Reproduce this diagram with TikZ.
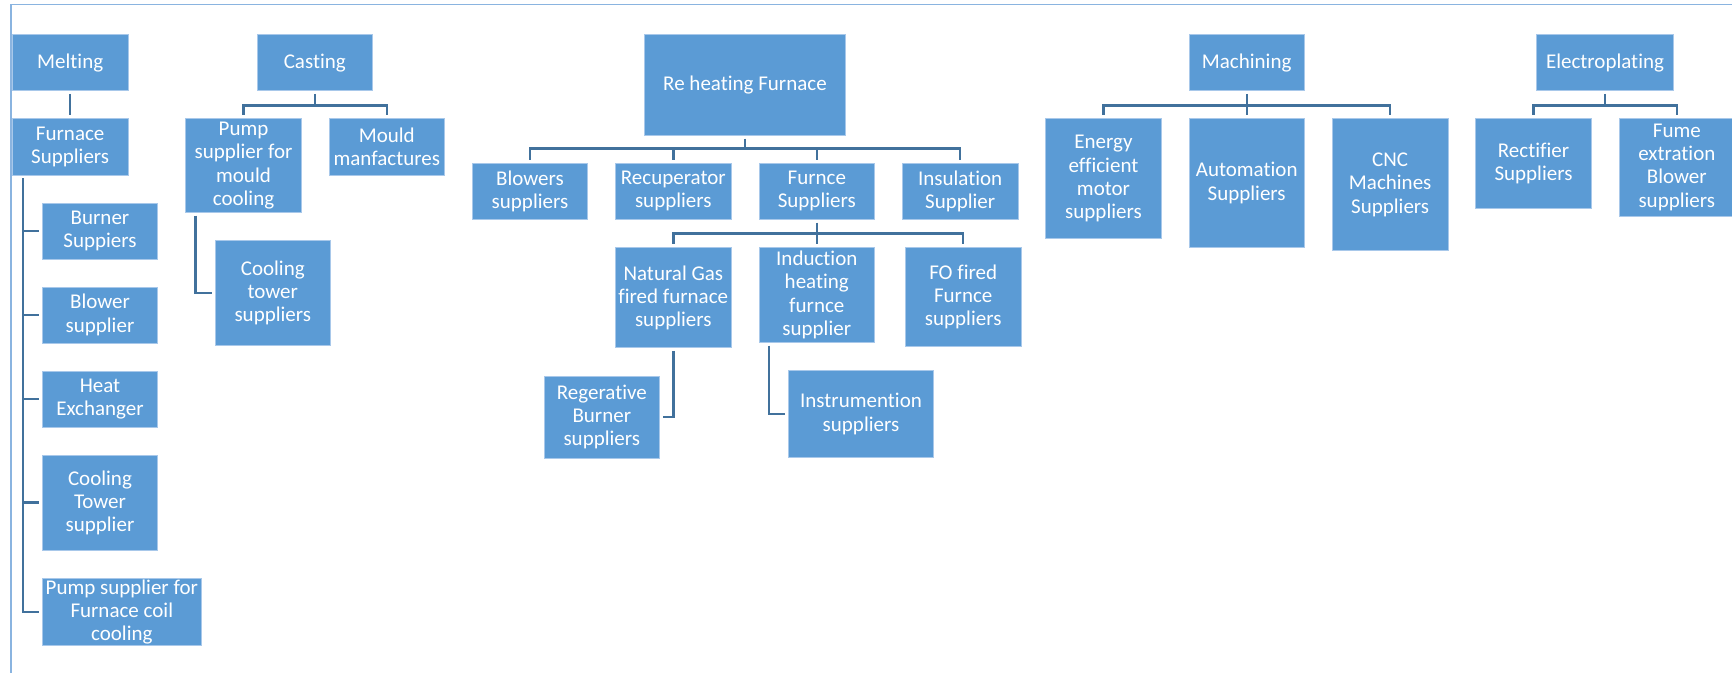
\documentclass[tikz,border=0pt]{standalone}
\usepackage{fontspec}
\newfontfamily\carl[Ligatures=NoCommon]{Carlito}
\newcommand\boxfont{\carl\fontsize{15.75pt}{17.4pt}\selectfont}
\usetikzlibrary{calc}
\definecolor{boxfill}{HTML}{5B9BD5}
\definecolor{boxedge}{HTML}{A8C8EA}
\definecolor{linecol}{HTML}{41719C}
\definecolor{framec}{HTML}{8AB4E0}
\tikzset{
  box/.style 2 args={draw=boxedge, line width=0.5pt, fill=boxfill, text=white,
    align=center, inner sep=0pt, minimum width={#1*0.75pt}, minimum height={#2*0.75pt}, font=\boxfont},
  conn/.style={draw=linecol, line width=1.8pt},
  sh/.style={shorten <=2.2pt, shorten >=2.2pt},
  she/.style={shorten >=2.2pt},
}
\begin{document}
\begin{tikzpicture}[x=0.75pt, y=-0.75pt]
\useasboundingbox (0,0) rectangle (1732,673);
\fill[white] (0,0) rectangle (1732,673);
% frame
\draw[framec, line width=0.9pt] (11,673) -- (11,4.3) -- (1732,4.3);

% ---------- Melting ----------
\node[box={115.7}{56.2}] (melt) at (70.2,62.6) {Melting};
\node[box={115.7}{56.3}] (mfs) at (70.2,146.9) {Furnace\\Suppliers};
\node[box={115.4}{56}] (burn) at (100,231) {Burner\\Suppiers};
\node[box={115.4}{56}] (blowm) at (100,315) {Blower\\supplier};
\node[box={115.4}{56.3}] (heat) at (100,399.2) {Heat\\Exchanger};
\node[box={115.4}{94.7}] (cool) at (100,502.7) {Cooling\\Tower\\supplier};
\node[box={159}{67}] (pcoil) at (121.8,611.8) {Pump supplier for\\Furnace coil\\cooling};

\draw[conn, sh] (melt.south) -- (mfs.north);
\coordinate (mb) at ($(mfs.south west)+(10.7,0)$);
\foreach \n in {burn,blowm,heat,cool,pcoil}
  \draw[conn, sh] (mb) |- (\n.west);

% ---------- Casting ----------
\node[box={115.7}{56.2}] (cast) at (314.8,62.6) {Casting};
\node[box={115.6}{93.6}] (pmould) at (243.5,165.5) {Pump\\supplier for\\mould\\cooling};
\node[box={115.7}{56.3}] (mould) at (386.8,146.9) {Mould\\manfactures};
\node[box={115.7}{105}] (ctow) at (272.8,292.8) {Cooling\\tower\\suppliers};

\coordinate (cj) at ($(cast.south)+(0,14.3)$);
\draw[conn, shorten <=2.2pt] (cast.south) -- (cj);
\draw[conn, she] (cj) -| (pmould.north);
\draw[conn, she] (cj) -| (mould.north);
\coordinate (pmb) at ($(pmould.south west)+(10,0)$);
\draw[conn, sh] (pmb) |- (ctow.west);

% ---------- Re heating Furnace ----------
\node[box={201.4}{100.6}] (reh) at (745,85) {Re heating Furnace};
\node[box={115.4}{56}] (blow) at (530,191.3) {Blowers\\suppliers};
\node[box={115.4}{56}] (recup) at (673.3,191.3) {Recuperator\\suppliers};
\node[box={115.4}{56}] (furn) at (816.8,191.3) {Furnce\\Suppliers};
\node[box={115.4}{56}] (insul) at (960.2,191.3) {Insulation\\Supplier};
\node[box={115.4}{100}] (ngas) at (673.3,297.7) {Natural Gas\\fired furnace\\suppliers};
\node[box={115.4}{94.6}] (induc) at (816.8,295) {Induction\\heating\\furnce\\supplier};
\node[box={115.4}{98.6}] (fofi) at (963.2,297) {FO fired\\Furnce\\suppliers};
\node[box={115}{82}] (regen) at (601.8,417) {Regerative\\Burner\\suppliers};
\node[box={144.6}{86.6}] (instr) at (861,414) {Instrumention\\suppliers};

\coordinate (rj) at ($(reh.south)+(0,13)$);
\draw[conn, shorten <=2.2pt] (reh.south) -- (rj);
\foreach \n in {blow,recup,furn,insul}
  \draw[conn, she] (rj) -| (\n.north);
\coordinate (fj) at ($(furn.south)+(0,14)$);
\draw[conn, shorten <=2.2pt] (furn.south) -- (fj);
\foreach \n in {ngas,induc,fofi}
  \draw[conn, she] (fj) -| (\n.north);
\draw[conn, sh] (ngas.south) |- (regen.east);
\coordinate (ib) at ($(induc.south west)+(10.3,0)$);
\draw[conn, sh] (ib) |- (instr.west);

% ---------- Machining ----------
\node[box={115.3}{56.2}] (mach) at (1246.7,62.6) {Machining};
\node[box={115.6}{120}] (ener) at (1103.5,178.7) {Energy\\efficient\\motor\\suppliers};
\node[box={115.3}{128.6}] (auto) at (1246.7,183) {Automation\\Suppliers};
\node[box={115.7}{132}] (cnc) at (1390.2,184.7) {CNC\\Machines\\Suppliers};

\coordinate (mj) at ($(mach.south)+(0,14.3)$);
\draw[conn, shorten <=2.2pt] (mach.south) -- (mj);
\foreach \n in {ener,auto,cnc}
  \draw[conn, she] (mj) -| (\n.north);

% ---------- Electroplating ----------
\node[box={137.4}{56.2}] (elec) at (1605,62.6) {Electroplating};
\node[box={115.6}{89.6}] (rect) at (1533.5,163.5) {Rectifier\\Suppliers};
\node[box={115.5}{97.3}] (fume) at (1676.8,167.3) {Fume\\extration\\Blower\\suppliers};

\coordinate (ej) at ($(elec.south)+(0,14.3)$);
\draw[conn, shorten <=2.2pt] (elec.south) -- (ej);
\foreach \n in {rect,fume}
  \draw[conn, she] (ej) -| (\n.north);
\end{tikzpicture}
\end{document}
